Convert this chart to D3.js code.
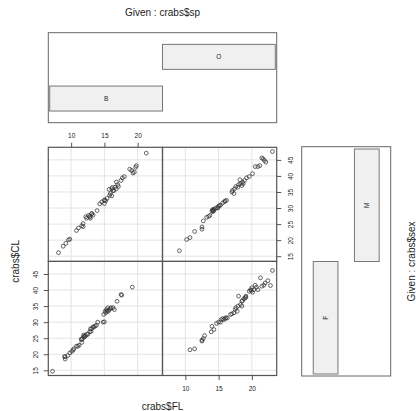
<!DOCTYPE html>
<html>
<head>
<meta charset="utf-8">
<script src="https://cdn.jsdelivr.net/npm/d3@7"></script>
<style>
body { margin: 0; background: #fff; }
text { font-family: "Liberation Sans", Arial, sans-serif; fill: #222; }
</style>
</head>
<body>
<svg width="416" height="411"></svg>
<script>

// conditioning levels
var species = ["B", "O"];
var sexes = ["F", "M"];

var xTicks = [10, 15, 20];
var yTicks = [15, 20, 25, 30, 35, 40, 45];

// crabs$FL / crabs$CL
var flBM = [8.1, 8.8, 9.2, 9.6, 9.8, 10.8, 11.1, 11.6, 11.8, 11.8, 12.2, 12.3, 12.6, 12.8, 12.8, 12.9, 13.1, 13.1, 13.3, 13.9,
    14.3, 14.6, 15.0, 15.0, 15.0, 15.2, 15.4, 15.7, 15.8, 15.9, 16.1, 16.1, 16.2, 16.3, 16.4, 16.6, 16.8, 16.8, 17.0, 17.1,
    17.5, 17.7, 18.0, 18.8, 19.1, 19.3, 19.5, 19.7, 19.8, 21.3];
var clBM = [16.1, 18.1, 19.0, 20.1, 20.3, 23.0, 23.8, 24.5, 24.2, 25.2, 27.3, 26.8, 27.7, 27.2, 27.4, 26.8, 28.2, 28.3, 27.8, 29.2,
    31.3, 31.9, 31.4, 32.4, 32.5, 32.3, 33.0, 35.8, 34.0, 34.5, 36.0, 33.8, 36.4, 35.5, 35.4, 36.5, 38.1, 36.0, 37.3, 36.7,
    38.6, 39.4, 39.8, 42.1, 41.7, 40.9, 41.2, 42.7, 43.2, 47.1];

var flOM = [9.1, 10.2, 10.7, 11.4, 12.5, 12.5, 12.7, 13.2, 13.5, 13.7, 14.0, 14.1, 14.1, 14.2, 14.2, 14.3, 14.5, 14.7, 14.9, 15.0,
    15.1, 15.3, 15.6, 15.9, 16.0, 16.2, 17.0, 17.1, 17.3, 17.4, 17.6, 17.9, 18.0, 18.2, 18.3, 18.5, 18.6, 18.7, 18.9, 19.2,
    19.6, 20.1, 20.5, 20.9, 21.2, 21.5, 21.7, 21.9, 22.1, 23.1];
var clOM = [16.7, 20.2, 20.8, 22.7, 24.1, 23.4, 26.0, 27.1, 27.4, 27.7, 29.0, 29.3, 29.5, 29.2, 28.9, 29.6, 29.8, 30.1, 30.0, 30.5,
    30.8, 30.9, 31.6, 32.0, 32.2, 32.4, 35.0, 35.5, 34.5, 36.0, 36.7, 36.5, 37.3, 38.8, 37.6, 37.0, 38.1, 37.6, 38.6, 39.4,
    39.8, 40.7, 42.9, 42.9, 43.2, 45.6, 45.3, 44.8, 44.3, 47.6];

var flBF = [7.2, 9.0, 9.1, 9.1, 9.5, 9.8, 10.1, 10.3, 10.4, 10.8, 11.0, 11.2, 11.5, 11.6, 11.6, 11.7, 11.9, 11.9, 12.0, 12.0,
    12.2, 12.4, 12.5, 12.8, 12.9, 13.0, 13.1, 13.3, 13.4, 13.6, 13.8, 14.0, 14.8, 15.0, 14.9, 17.6, 15.1, 15.2, 15.3, 15.4,
    15.5, 15.6, 15.7, 15.9, 16.0, 16.3, 16.5, 16.9, 17.5, 19.2];
var clBF = [14.7, 19.3, 18.5, 19.2, 19.6, 20.4, 20.9, 21.3, 21.7, 22.5, 22.5, 22.8, 24.7, 24.6, 23.7, 24.9, 26.0, 25.6, 25.4, 25.5,
    25.8, 26.3, 26.2, 27.0, 27.9, 27.1, 28.0, 28.5, 28.5, 28.8, 29.0, 30.0, 30.0, 30.1, 32.4, 38.4, 33.4, 32.9, 33.9, 33.4,
    34.5, 33.4, 33.9, 34.2, 34.5, 34.5, 33.9, 36.5, 38.6, 40.9];

var flOF = [10.7, 11.4, 12.5, 12.5, 12.7, 12.9, 13.9, 14.0, 14.3, 14.7, 15.0, 15.3, 15.4, 15.6, 15.8, 16.0, 16.1, 16.3, 16.8, 17.0,
    17.3, 17.5, 17.6, 17.8, 17.9, 18.0, 18.3, 18.5, 18.5, 18.6, 18.8, 19.0, 19.1, 19.1, 19.6, 19.8, 19.9, 20.0, 20.1, 20.3,
    20.5, 20.7, 20.9, 21.3, 21.5, 21.8, 22.0, 22.4, 22.8, 23.1];
var clOF = [21.4, 21.7, 24.1, 24.4, 24.9, 25.8, 27.0, 28.7, 27.7, 29.6, 30.0, 30.0, 30.8, 31.1, 30.8, 31.1, 31.4, 31.3, 32.4, 32.6,
    32.9, 33.9, 34.5, 33.4, 35.0, 38.1, 35.5, 35.0, 36.5, 36.7, 37.3, 37.5, 38.1, 37.8, 39.6, 40.1, 39.8, 40.7, 39.3, 40.1,
    41.5, 40.9, 40.1, 43.8, 41.2, 41.5, 42.2, 42.9, 41.4, 46.1];

var groups = [
    {sp: "B", sex: "M", fl: flBM, cl: clBM},
    {sp: "O", sex: "M", fl: flOM, cl: clOM},
    {sp: "B", sex: "F", fl: flBF, cl: clBF},
    {sp: "O", sex: "F", fl: flOF, cl: clOF}
];

var svg = d3.select("svg");

var gridL = 48.3, gridT = 147.3;
var pw = 114.2, ph = 114.1;

// R style 4% range expansion
function expand(e) {
    var d = (e[1] - e[0]) * 0.04;
    return [e[0] - d, e[1] + d];
}

var allFL = [].concat(flBM, flOM, flBF, flOF);
var allCL = [].concat(clBM, clOM, clBF, clOF);

var x = d3.scaleLinear().domain(expand(d3.extent(allFL))).range([0, pw]);
var y = d3.scaleLinear().domain(expand(d3.extent(allCL))).range([ph, 0]);

var col = d3.scaleBand().domain(species).range([gridL, gridL + 2 * pw]);
var row = d3.scaleBand().domain(sexes.slice().reverse()).range([gridT, gridT + 2 * ph]);

var panels = svg.selectAll("g.panel")
    .data(groups)
    .enter()
    .append("g")
    .attr("class", "panel")
    .attr("transform", function(d) {
        return "translate(" + col(d.sp) + "," + row(d.sex) + ")";
    });

// grid
panels.selectAll("line.vg")
    .data(xTicks)
    .enter().append("line")
    .attr("x1", function(d) { return x(d); })
    .attr("x2", function(d) { return x(d); })
    .attr("y1", 0).attr("y2", ph)
    .attr("stroke", "#e4e4e4");

panels.selectAll("line.hg")
    .data(yTicks)
    .enter().append("line")
    .attr("y1", function(d) { return y(d); })
    .attr("y2", function(d) { return y(d); })
    .attr("x1", 0).attr("x2", pw)
    .attr("stroke", "#e4e4e4");

// points
panels.selectAll("circle")
    .data(function(d) {
        return d.fl.map(function(v, i) { return [v, d.cl[i]]; });
    })
    .enter().append("circle")
    .attr("cx", function(d) { return x(d[0]); })
    .attr("cy", function(d) { return y(d[1]); })
    .attr("r", 1.9)
    .attr("fill", "none")
    .attr("stroke", "#333")
    .attr("stroke-width", 0.75);

panels.append("rect")
    .attr("width", pw)
    .attr("height", ph)
    .attr("fill", "none")
    .attr("stroke", "#555")
    .attr("stroke-width", 1.2);

// axes, alternating sides like coplot
function styleAxis(g) {
    g.select(".domain").remove();
    g.selectAll(".tick line").attr("stroke", "#555");
    g.selectAll(".tick text").style("font-size", "6.5px").attr("fill", "#333");
}

function rotLabels(g, cx) {
    g.selectAll(".tick text")
        .attr("x", null).attr("y", null)
        .attr("dy", "0.35em")
        .attr("text-anchor", "middle")
        .attr("transform", "translate(" + cx + ",0) rotate(-90)");
}

svg.append("g")
    .attr("transform", "translate(" + col("B") + "," + gridT + ")")
    .call(d3.axisTop(x).tickValues(xTicks).tickSize(4.6).tickPadding(5))
    .call(styleAxis);

svg.append("g")
    .attr("transform", "translate(" + col("O") + "," + (gridT + 2 * ph) + ")")
    .call(d3.axisBottom(x).tickValues(xTicks).tickSize(4.6).tickPadding(6))
    .call(styleAxis);

svg.append("g")
    .attr("transform", "translate(" + gridL + "," + row("F") + ")")
    .call(d3.axisLeft(y).tickValues(yTicks).tickSize(4.6))
    .call(styleAxis)
    .call(rotLabels, -13);

svg.append("g")
    .attr("transform", "translate(" + (gridL + 2 * pw) + "," + row("M") + ")")
    .call(d3.axisRight(y).tickValues(yTicks).tickSize(4.6))
    .call(styleAxis)
    .call(rotLabels, 13.8);

// given panel for species (top)
var spX = d3.scaleLinear().domain([0.5, 2.5]).range([49.7, 275.3]);
var spY = d3.scaleLinear().domain([0.42, 2.58]).range([122.7, 32.7]);

svg.append("rect")
    .attr("x", gridL).attr("y", spY(2.58))
    .attr("width", 2 * pw).attr("height", spY(0.42) - spY(2.58))
    .attr("fill", "none").attr("stroke", "#666");

var spBars = svg.selectAll("g.spbar")
    .data(species)
    .enter().append("g")
    .attr("class", "spbar");

spBars.append("rect")
    .attr("x", function(d, i) { return spX(i + 0.5); })
    .attr("y", function(d, i) { return spY(i + 1.3); })
    .attr("width", spX(1.5) - spX(0.5))
    .attr("height", spY(0.7) - spY(1.3))
    .attr("fill", "#f0f0f0")
    .attr("stroke", "#777");

spBars.append("text")
    .attr("x", function(d, i) { return spX(i + 1); })
    .attr("y", function(d, i) { return spY(i + 1); })
    .attr("dy", "0.35em")
    .attr("text-anchor", "middle")
    .style("font-size", "6.5px")
    .text(function(d) { return d; });

// given panel for sex (right)
var sexX = d3.scaleLinear().domain([0.42, 2.58]).range([301.7, 390.7]);
var sexY = d3.scaleLinear().domain([0.5, 2.5]).range([374, 149]);

svg.append("rect")
    .attr("x", sexX(0.42)).attr("y", 146.7)
    .attr("width", sexX(2.58) - sexX(0.42)).attr("height", 376 - 146.7)
    .attr("fill", "none").attr("stroke", "#666");

var sexBars = svg.selectAll("g.sexbar")
    .data(sexes)
    .enter().append("g")
    .attr("class", "sexbar");

sexBars.append("rect")
    .attr("x", function(d, i) { return sexX(i + 0.7); })
    .attr("y", function(d, i) { return sexY(i + 1.5); })
    .attr("width", sexX(1.3) - sexX(0.7))
    .attr("height", sexY(0.5) - sexY(1.5))
    .attr("fill", "#f0f0f0")
    .attr("stroke", "#777");

sexBars.append("text")
    .attr("transform", function(d, i) {
        return "translate(" + sexX(i + 1) + "," + sexY(i + 1) + ") rotate(-90)";
    })
    .attr("dy", "0.35em")
    .attr("text-anchor", "middle")
    .style("font-size", "6.5px")
    .text(function(d) { return d; });

// titles
svg.append("text")
    .attr("x", gridL + pw).attr("y", 12)
    .attr("dy", "0.35em")
    .attr("text-anchor", "middle")
    .style("font-size", "10px")
    .text("Given : crabs$sp");

svg.append("text")
    .attr("x", gridL + pw).attr("y", 406)
    .attr("dy", "0.35em")
    .attr("text-anchor", "middle")
    .style("font-size", "10px")
    .text("crabs$FL");

svg.append("text")
    .attr("transform", "translate(15," + (gridT + ph) + ") rotate(-90)")
    .attr("dy", "0.35em")
    .attr("text-anchor", "middle")
    .style("font-size", "10px")
    .text("crabs$CL");

svg.append("text")
    .attr("transform", "translate(411.5," + (gridT + ph) + ") rotate(-90)")
    .attr("dy", "0.35em")
    .attr("text-anchor", "middle")
    .style("font-size", "10px")
    .text("Given : crabs$sex");

</script>
</body>
</html>
